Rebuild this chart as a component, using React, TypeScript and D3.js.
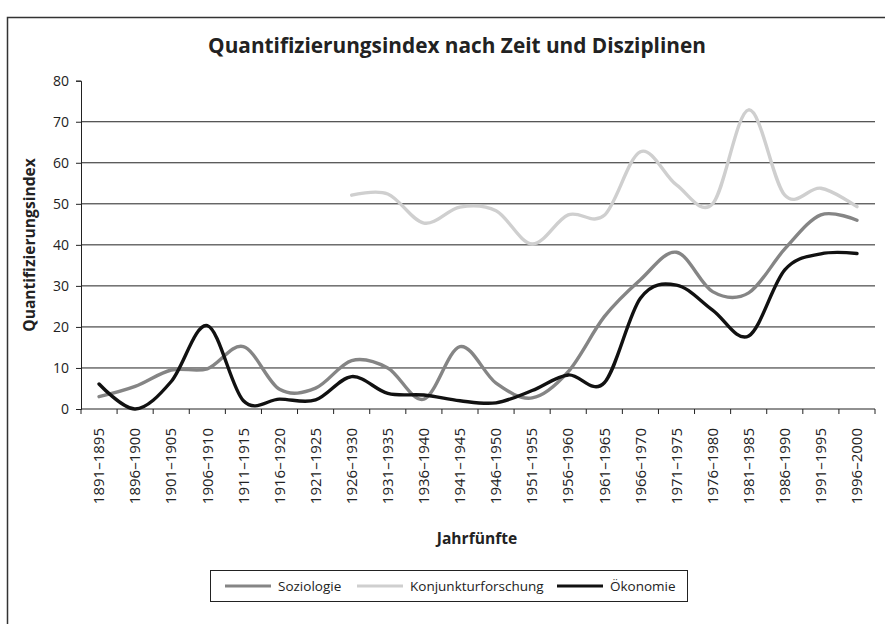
import { useRef, useEffect } from "react";
import * as d3 from "d3";

const categories = [
    "1891–1895", "1896–1900", "1901–1905", "1906–1910", "1911–1915", "1916–1920",
    "1921–1925", "1926–1930", "1931–1935", "1936–1940", "1941–1945", "1946–1950",
    "1951–1955", "1956–1960", "1961–1965", "1966–1970", "1971–1975", "1976–1980",
    "1981–1985", "1986–1990", "1991–1995", "1996–2000",
];

const soziologie = [3, 5.5, 9.5, 9.8, 15.2, 4.8, 5.1, 11.8, 10, 2.4, 15.2, 6.3, 2.7, 9.1, 22.5, 31.5, 38.2, 28.6, 28.3, 39, 47.3, 46];
const konjunktur: (number | null)[] = [null, null, null, null, null, null, null, 52.1, 52.4, 45.3, 49.2, 48.3, 40.2, 47.3, 47.2, 62.7, 54.6, 50, 72.9, 52.1, 53.8, 49.3];
const oekonomie = [6.1, 0, 6.7, 20.3, 2, 2.4, 2.2, 7.9, 3.8, 3.4, 2, 1.5, 4.5, 8.3, 6.4, 27, 30.2, 24.1, 17.8, 33.9, 37.8, 37.9];

const yTicks = [0, 10, 20, 30, 40, 50, 60, 70, 80];

const seriesNames = ["Soziologie", "Konjunkturforschung", "Ökonomie"];
const seriesColors = ["#858585", "#cfcfcf", "#111111"];

const dims = { width: 885, height: 624, left: 81, right: 875, top: 80.7, bottom: 409 };
const font = "'Open Sans', sans-serif";

const App = () => {
    const ref = useRef<SVGSVGElement>(null);

    useEffect(() => {
        const svg = d3.select(ref.current);
        svg.selectAll("*").remove();

        const x = d3.scaleBand().domain(categories).range([dims.left, dims.right]);
        const y = d3.scaleLinear().domain([0, 80]).range([dims.bottom, dims.top]);
        const cx = (c: string) => (x(c) as number) + x.bandwidth() / 2;

        // frame
        svg.append("rect")
            .attr("x", 7.5).attr("y", 17.5)
            .attr("width", 900).attr("height", 700)
            .attr("fill", "white").attr("stroke", "#333").attr("stroke-width", 1.5);

        svg.append("text")
            .attr("x", 457).attr("y", 53)
            .attr("text-anchor", "middle")
            .attr("font-family", font).attr("font-weight", "bold").attr("font-size", 20.8)
            .attr("fill", "#222")
            .text("Quantifizierungsindex nach Zeit und Disziplinen");

        // grid
        svg.append("g")
            .selectAll("line")
            .data(yTicks.filter(t => t > 0 && t < 80))
            .enter()
            .append("line")
            .attr("x1", dims.left).attr("x2", dims.right)
            .attr("y1", d => y(d)).attr("y2", d => y(d))
            .attr("stroke", "#222").attr("stroke-width", 1);

        const yAxis = d3.axisLeft(y).tickValues(yTicks).tickSize(5).tickPadding(7);
        const yg = svg.append("g")
            .attr("transform", `translate(${dims.left},0)`)
            .call(yAxis);
        yg.select(".domain").attr("stroke", "#222");
        yg.selectAll(".tick line").attr("stroke", "#222");
        yg.selectAll("text").attr("font-family", font).attr("font-size", 14).attr("fill", "#222");

        const xAxis = d3.axisBottom(x).tickSize(0).tickPadding(0);
        const xg = svg.append("g")
            .attr("transform", `translate(0,${dims.bottom})`)
            .call(xAxis);
        xg.select(".domain").attr("stroke", "#222").attr("d", `M${dims.left},0H${dims.right}`);
        xg.selectAll("text")
            .attr("font-family", font).attr("font-size", 15).attr("fill", "#222")
            .attr("transform", "rotate(-90)")
            .attr("text-anchor", "end")
            .attr("x", -19).attr("y", 0).attr("dy", "0.35em");
        // ticks at band edges
        xg.selectAll("line.edge")
            .data(categories.map(c => x(c) as number).concat([dims.right]))
            .enter()
            .append("line")
            .attr("class", "edge")
            .attr("x1", d => d).attr("x2", d => d)
            .attr("y1", 0).attr("y2", 5)
            .attr("stroke", "#222");

        svg.append("text")
            .attr("transform", `translate(35,245) rotate(-90)`)
            .attr("text-anchor", "middle")
            .attr("font-family", font).attr("font-weight", "bold").attr("font-size", 15.6)
            .attr("fill", "#222")
            .text("Quantifizierungsindex");

        svg.append("text")
            .attr("x", 477).attr("y", 544)
            .attr("text-anchor", "middle")
            .attr("font-family", font).attr("font-weight", "bold").attr("font-size", 15.6)
            .attr("fill", "#222")
            .text("Jahrfünfte");

        const line = d3.line<number | null>()
            .defined(d => d !== null)
            .x((_, i) => cx(categories[i]))
            .y(d => y(d as number))
            .curve(d3.curveCardinal.tension(0));

        [soziologie, konjunktur, oekonomie].forEach((s, i) => {
            svg.append("path")
                .datum(s as (number | null)[])
                .attr("d", line)
                .attr("fill", "none")
                .attr("stroke", seriesColors[i])
                .attr("stroke-width", 3.4)
                .attr("stroke-linejoin", "round")
                .attr("stroke-linecap", "round");
        });

        // legend
        const lg = svg.append("g");
        lg.append("rect")
            .attr("x", 210.5).attr("y", 570.5)
            .attr("width", 477).attr("height", 31)
            .attr("fill", "white").attr("stroke", "#222").attr("stroke-width", 1);
        const itemX = [225, 357, 557];
        seriesNames.forEach((n, i) => {
            lg.append("line")
                .attr("x1", itemX[i]).attr("x2", itemX[i] + 46)
                .attr("y1", 586).attr("y2", 586)
                .attr("stroke", seriesColors[i]).attr("stroke-width", 3);
            lg.append("text")
                .attr("x", itemX[i] + 53).attr("y", 591)
                .attr("font-family", font).attr("font-size", 13.5)
                .attr("fill", "#222")
                .text(n);
        });
    }, []);

    return (
        <svg ref={ref} width={dims.width} height={dims.height}
            style={{ position: "absolute", left: 0, top: 0, background: "white" }} />
    );
};

export default App;
